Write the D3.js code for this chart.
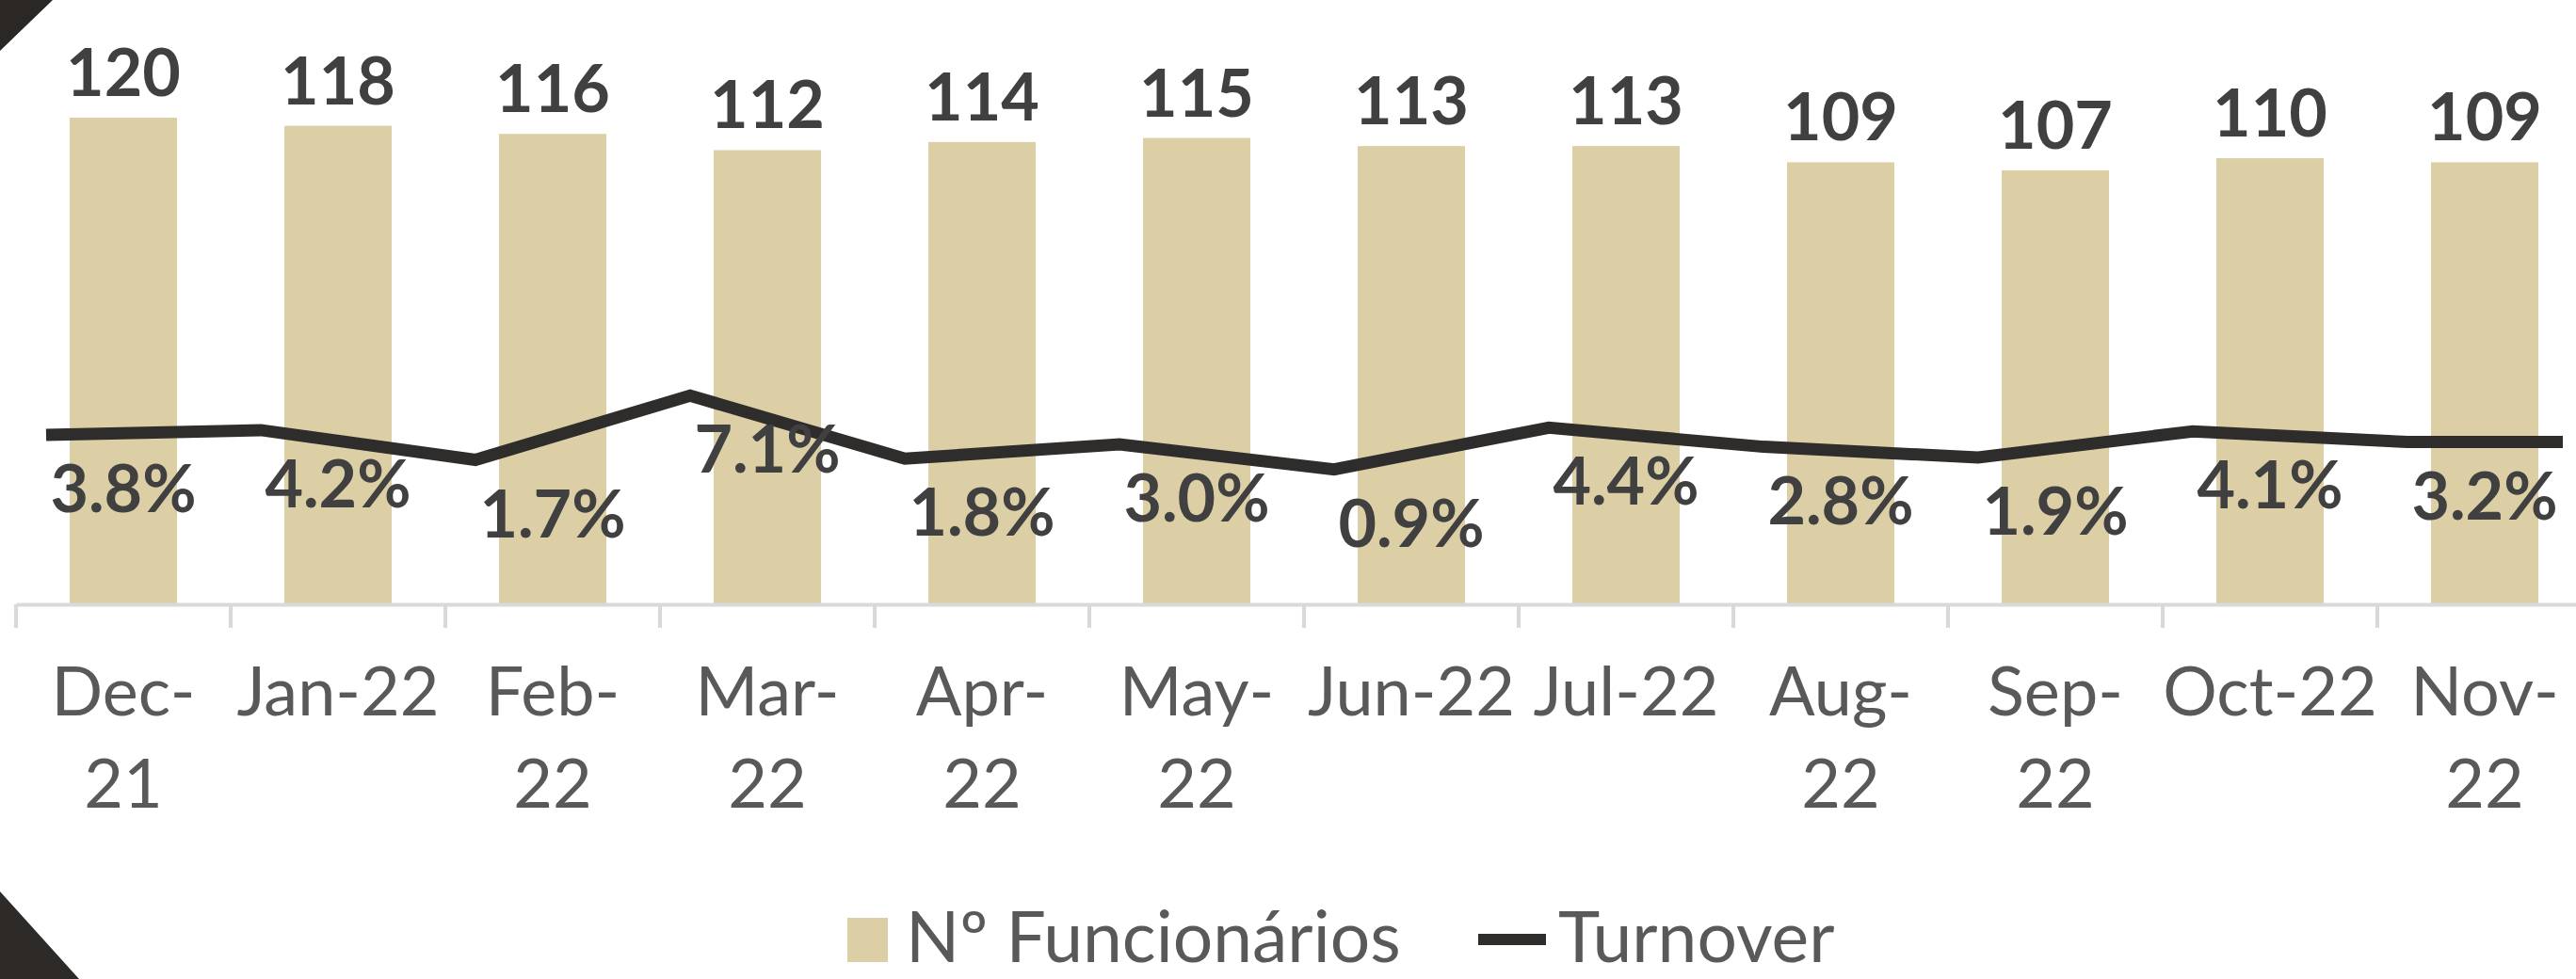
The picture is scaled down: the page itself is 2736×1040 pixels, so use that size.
<!DOCTYPE html>
<html>
<head>
<meta charset="utf-8">
<script src="https://cdn.jsdelivr.net/npm/d3@7"></script>
<style>
  html, body { margin: 0; padding: 0; background: #ffffff; }
  svg { display: block; }
</style>
</head>
<body>
<svg id="chart" width="2736" height="1040"></svg>
<script>
// ---- data ----
const months = ["Dec-21","Jan-22","Feb-22","Mar-22","Apr-22","May-22","Jun-22","Jul-22","Aug-22","Sep-22","Oct-22","Nov-22"];
const tickLines = [["Dec-","21"],["Jan-22"],["Feb-","22"],["Mar-","22"],["Apr-","22"],["May-","22"],["Jun-22"],["Jul-22"],["Aug-","22"],["Sep-","22"],["Oct-22"],["Nov-","22"]];
const funcionarios = [120,118,116,112,114,115,113,113,109,107,110,109];
const turnover = [3.8,4.2,1.7,7.1,1.8,3.0,0.9,4.4,2.8,1.9,4.1,3.2];
const legendLabels = ["Nº Funcionários","Turnover"];

// ---- styles ----
const W = 2736, H = 1040;
const barColor = "#dccfa6";
const lineColor = "#2f2d2b";
const labelColor = "#404040";
const axisTextColor = "#595959";
const axisColor = "#d9d9d9";
const fontFamily = "Lato, 'Open Sans', sans-serif";
const lineShift = 82;   // line vertices drawn left of bar centres, as in the source
const lineTail = 165;   // flat continuation after the last point

const svg = d3.select("#chart");
svg.append("rect").attr("width", W).attr("height", H).attr("fill", "#ffffff");

// decorative dark corners
svg.append("path").attr("d", "M0,0 L56,0 L0,54 Z").attr("fill", "#2b2724");
svg.append("path").attr("d", "M0,947 L84,1040 L0,1040 Z").attr("fill", "#2d2a27");

const x = d3.scaleBand().domain(months).range([17, 17 + 228 * 12]).paddingInner(0.5).paddingOuter(0.25);
const y = d3.scaleLinear().domain([0, 120]).range([642, 125]);
const y2 = d3.scaleLinear().domain([0, 10]).range([510, 510 - 126.4]);
const bw = x.bandwidth();
const cx = d => x(d) + bw / 2;

// bars
svg.append("g").selectAll("rect").data(months).join("rect")
  .attr("x", d => x(d))
  .attr("y", (d, i) => y(funcionarios[i]))
  .attr("width", bw)
  .attr("height", (d, i) => y(0) - y(funcionarios[i]))
  .attr("fill", barColor);

// x axis
const axis = svg.append("g").attr("transform", `translate(0,${y(0)})`)
  .call(d3.axisBottom(x).tickSize(0).tickFormat(""));
axis.select(".domain").attr("stroke", axisColor).attr("stroke-width", 4);
const bounds = d3.range(months.length + 1).map(i => x.range()[0] + i * x.step());
axis.selectAll(".bnd").data(bounds).join("line").attr("class", "bnd")
  .attr("x1", d => d).attr("x2", d => d).attr("y1", 0).attr("y2", 25)
  .attr("stroke", axisColor).attr("stroke-width", 4);

// tick labels
const tl = svg.append("g").selectAll("text").data(months).join("text")
  .attr("x", d => cx(d))
  .attr("y", 760)
  .attr("text-anchor", "middle")
  .attr("font-family", fontFamily)
  .attr("font-size", 72)
  .attr("fill", axisTextColor);
tl.each(function(d, i) {
  d3.select(this).selectAll("tspan").data(tickLines[i]).join("tspan")
    .attr("x", cx(d))
    .attr("dy", (t, j) => j === 0 ? 0 : 98)
    .text(t => t);
});

// bar labels
svg.append("g").selectAll("text").data(months).join("text")
  .attr("x", d => cx(d))
  .attr("y", (d, i) => y(funcionarios[i]) - 23)
  .attr("text-anchor", "middle")
  .attr("font-family", fontFamily)
  .attr("font-weight", 700)
  .attr("font-size", 70)
  .attr("fill", labelColor)
  .text((d, i) => funcionarios[i]);

// turnover line
const pts = months.map((d, i) => [cx(d) - lineShift, y2(turnover[i])]);
pts.push([pts[pts.length - 1][0] + lineTail, pts[pts.length - 1][1]]);
svg.append("path")
  .attr("d", d3.line()(pts))
  .attr("fill", "none")
  .attr("stroke", lineColor)
  .attr("stroke-width", 13)
  .attr("stroke-linejoin", "miter");

// turnover labels
svg.append("g").selectAll("text").data(months).join("text")
  .attr("x", d => cx(d))
  .attr("y", (d, i) => y2(turnover[i]) + 82)
  .attr("text-anchor", "middle")
  .attr("font-family", fontFamily)
  .attr("font-weight", 700)
  .attr("font-size", 70)
  .attr("fill", labelColor)
  .text((d, i) => d3.format(".1f")(turnover[i]) + "%");

// legend
const lg = svg.append("g");
lg.append("rect").attr("x", 900).attr("y", 975).attr("width", 43).attr("height", 47).attr("fill", barColor);
lg.append("text").attr("x", 962).attr("y", 1022)
  .attr("font-family", fontFamily).attr("font-size", 75).attr("fill", axisTextColor)
  .text(legendLabels[0]);
lg.append("line").attr("x1", 1570).attr("x2", 1642).attr("y1", 998).attr("y2", 998)
  .attr("stroke", lineColor).attr("stroke-width", 12);
lg.append("text").attr("x", 1655).attr("y", 1022)
  .attr("font-family", fontFamily).attr("font-size", 75).attr("fill", axisTextColor)
  .text(legendLabels[1]);
</script>
</body>
</html>
